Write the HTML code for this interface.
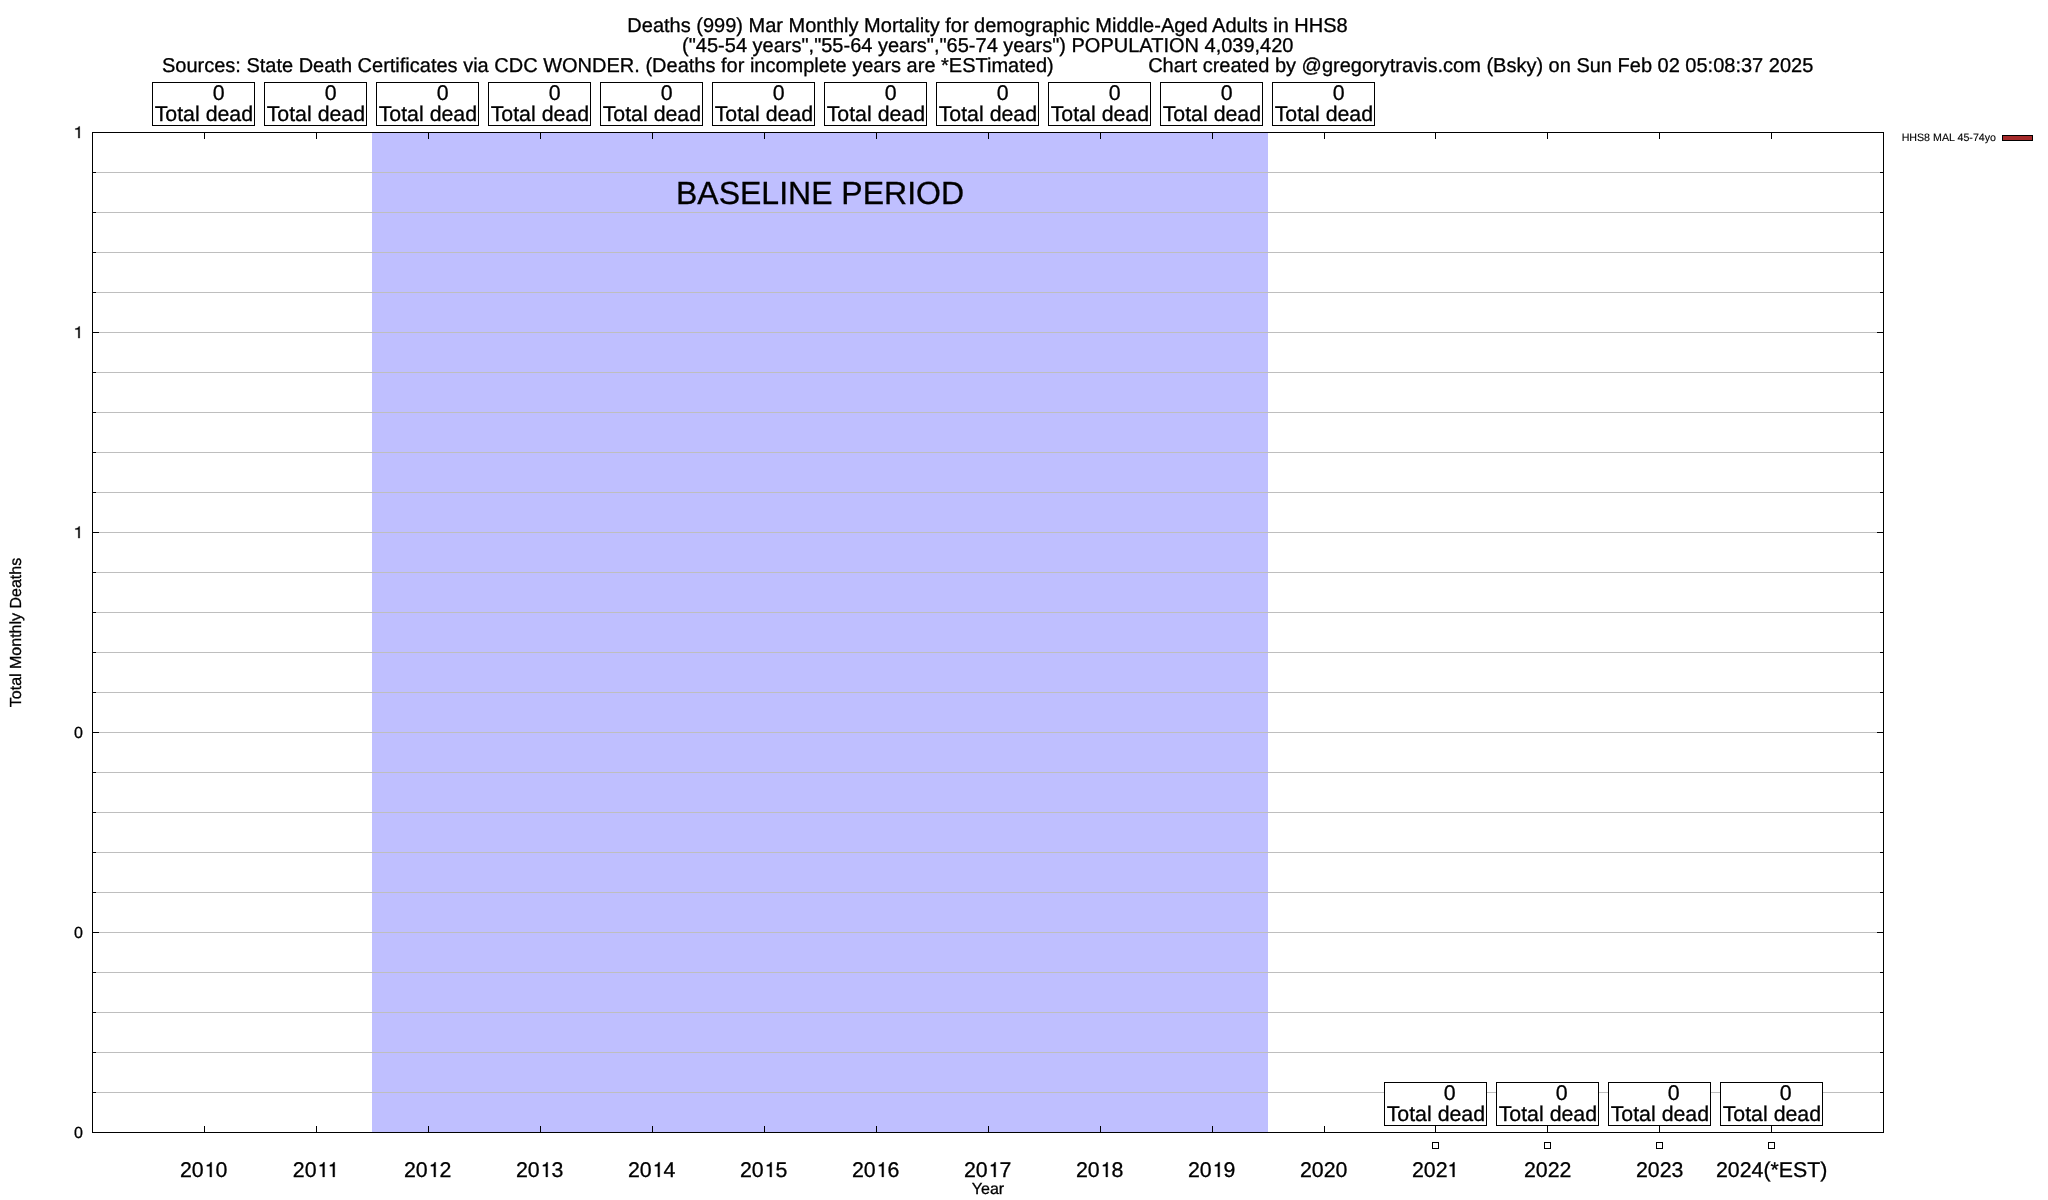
<!DOCTYPE html>
<html><head><meta charset="utf-8"><title>Deaths Mar Monthly Mortality HHS8</title>
<style>
html,body{margin:0;padding:0;background:#fff;}
body{width:2048px;height:1200px;overflow:hidden;}
svg{display:block;will-change:transform;}
text{font-family:"Liberation Sans",sans-serif;fill:#000;white-space:pre;text-rendering:geometricPrecision;stroke:#000;stroke-width:0.3px;}
.one{fill:#000;stroke:#000;stroke-width:0.3px;stroke-linejoin:round;}
.t20{font-size:20px;}
.t21{font-size:21.33px;}
.t16{font-size:16px;}
.t32{font-size:32px;}
.t10{font-size:10.67px;stroke-width:0.12px;}
.m{text-anchor:middle;}
.e{text-anchor:end;}
.ln{stroke:#000;stroke-width:1;shape-rendering:crispEdges;fill:none;}
</style></head><body>
<svg width="2048" height="1200" viewBox="0 0 2048 1200">
<rect x="0" y="0" width="2048" height="1200" fill="#ffffff"/>
<rect x="372" y="132.5" width="896" height="1000.0" fill="#bfbfff"/>
<g stroke="#bebebe" stroke-width="1" shape-rendering="crispEdges">
<line x1="92.5" y1="132.5" x2="1883.5" y2="132.5"/>
<line x1="92.5" y1="172.5" x2="1883.5" y2="172.5"/>
<line x1="92.5" y1="212.5" x2="1883.5" y2="212.5"/>
<line x1="92.5" y1="252.5" x2="1883.5" y2="252.5"/>
<line x1="92.5" y1="292.5" x2="1883.5" y2="292.5"/>
<line x1="92.5" y1="332.5" x2="1883.5" y2="332.5"/>
<line x1="92.5" y1="372.5" x2="1883.5" y2="372.5"/>
<line x1="92.5" y1="412.5" x2="1883.5" y2="412.5"/>
<line x1="92.5" y1="452.5" x2="1883.5" y2="452.5"/>
<line x1="92.5" y1="492.5" x2="1883.5" y2="492.5"/>
<line x1="92.5" y1="532.5" x2="1883.5" y2="532.5"/>
<line x1="92.5" y1="572.5" x2="1883.5" y2="572.5"/>
<line x1="92.5" y1="612.5" x2="1883.5" y2="612.5"/>
<line x1="92.5" y1="652.5" x2="1883.5" y2="652.5"/>
<line x1="92.5" y1="692.5" x2="1883.5" y2="692.5"/>
<line x1="92.5" y1="732.5" x2="1883.5" y2="732.5"/>
<line x1="92.5" y1="772.5" x2="1883.5" y2="772.5"/>
<line x1="92.5" y1="812.5" x2="1883.5" y2="812.5"/>
<line x1="92.5" y1="852.5" x2="1883.5" y2="852.5"/>
<line x1="92.5" y1="892.5" x2="1883.5" y2="892.5"/>
<line x1="92.5" y1="932.5" x2="1883.5" y2="932.5"/>
<line x1="92.5" y1="972.5" x2="1883.5" y2="972.5"/>
<line x1="92.5" y1="1012.5" x2="1883.5" y2="1012.5"/>
<line x1="92.5" y1="1052.5" x2="1883.5" y2="1052.5"/>
<line x1="92.5" y1="1092.5" x2="1883.5" y2="1092.5"/>
<line x1="92.5" y1="1132.5" x2="1883.5" y2="1132.5"/>
</g>
<g class="ln">
<line x1="92.5" y1="132.5" x2="99.0" y2="132.5"/>
<line x1="1883.5" y1="132.5" x2="1877.0" y2="132.5"/>
<line x1="92.5" y1="172.5" x2="96.0" y2="172.5"/>
<line x1="1883.5" y1="172.5" x2="1880.0" y2="172.5"/>
<line x1="92.5" y1="212.5" x2="96.0" y2="212.5"/>
<line x1="1883.5" y1="212.5" x2="1880.0" y2="212.5"/>
<line x1="92.5" y1="252.5" x2="96.0" y2="252.5"/>
<line x1="1883.5" y1="252.5" x2="1880.0" y2="252.5"/>
<line x1="92.5" y1="292.5" x2="96.0" y2="292.5"/>
<line x1="1883.5" y1="292.5" x2="1880.0" y2="292.5"/>
<line x1="92.5" y1="332.5" x2="99.0" y2="332.5"/>
<line x1="1883.5" y1="332.5" x2="1877.0" y2="332.5"/>
<line x1="92.5" y1="372.5" x2="96.0" y2="372.5"/>
<line x1="1883.5" y1="372.5" x2="1880.0" y2="372.5"/>
<line x1="92.5" y1="412.5" x2="96.0" y2="412.5"/>
<line x1="1883.5" y1="412.5" x2="1880.0" y2="412.5"/>
<line x1="92.5" y1="452.5" x2="96.0" y2="452.5"/>
<line x1="1883.5" y1="452.5" x2="1880.0" y2="452.5"/>
<line x1="92.5" y1="492.5" x2="96.0" y2="492.5"/>
<line x1="1883.5" y1="492.5" x2="1880.0" y2="492.5"/>
<line x1="92.5" y1="532.5" x2="99.0" y2="532.5"/>
<line x1="1883.5" y1="532.5" x2="1877.0" y2="532.5"/>
<line x1="92.5" y1="572.5" x2="96.0" y2="572.5"/>
<line x1="1883.5" y1="572.5" x2="1880.0" y2="572.5"/>
<line x1="92.5" y1="612.5" x2="96.0" y2="612.5"/>
<line x1="1883.5" y1="612.5" x2="1880.0" y2="612.5"/>
<line x1="92.5" y1="652.5" x2="96.0" y2="652.5"/>
<line x1="1883.5" y1="652.5" x2="1880.0" y2="652.5"/>
<line x1="92.5" y1="692.5" x2="96.0" y2="692.5"/>
<line x1="1883.5" y1="692.5" x2="1880.0" y2="692.5"/>
<line x1="92.5" y1="732.5" x2="99.0" y2="732.5"/>
<line x1="1883.5" y1="732.5" x2="1877.0" y2="732.5"/>
<line x1="92.5" y1="772.5" x2="96.0" y2="772.5"/>
<line x1="1883.5" y1="772.5" x2="1880.0" y2="772.5"/>
<line x1="92.5" y1="812.5" x2="96.0" y2="812.5"/>
<line x1="1883.5" y1="812.5" x2="1880.0" y2="812.5"/>
<line x1="92.5" y1="852.5" x2="96.0" y2="852.5"/>
<line x1="1883.5" y1="852.5" x2="1880.0" y2="852.5"/>
<line x1="92.5" y1="892.5" x2="96.0" y2="892.5"/>
<line x1="1883.5" y1="892.5" x2="1880.0" y2="892.5"/>
<line x1="92.5" y1="932.5" x2="99.0" y2="932.5"/>
<line x1="1883.5" y1="932.5" x2="1877.0" y2="932.5"/>
<line x1="92.5" y1="972.5" x2="96.0" y2="972.5"/>
<line x1="1883.5" y1="972.5" x2="1880.0" y2="972.5"/>
<line x1="92.5" y1="1012.5" x2="96.0" y2="1012.5"/>
<line x1="1883.5" y1="1012.5" x2="1880.0" y2="1012.5"/>
<line x1="92.5" y1="1052.5" x2="96.0" y2="1052.5"/>
<line x1="1883.5" y1="1052.5" x2="1880.0" y2="1052.5"/>
<line x1="92.5" y1="1092.5" x2="96.0" y2="1092.5"/>
<line x1="1883.5" y1="1092.5" x2="1880.0" y2="1092.5"/>
<line x1="92.5" y1="1132.5" x2="99.0" y2="1132.5"/>
<line x1="1883.5" y1="1132.5" x2="1877.0" y2="1132.5"/>
<line x1="204.5" y1="1132.5" x2="204.5" y2="1126.0"/>
<line x1="204.5" y1="132.5" x2="204.5" y2="139.0"/>
<line x1="316.5" y1="1132.5" x2="316.5" y2="1126.0"/>
<line x1="316.5" y1="132.5" x2="316.5" y2="139.0"/>
<line x1="428.5" y1="1132.5" x2="428.5" y2="1126.0"/>
<line x1="428.5" y1="132.5" x2="428.5" y2="139.0"/>
<line x1="540.5" y1="1132.5" x2="540.5" y2="1126.0"/>
<line x1="540.5" y1="132.5" x2="540.5" y2="139.0"/>
<line x1="652.5" y1="1132.5" x2="652.5" y2="1126.0"/>
<line x1="652.5" y1="132.5" x2="652.5" y2="139.0"/>
<line x1="764.5" y1="1132.5" x2="764.5" y2="1126.0"/>
<line x1="764.5" y1="132.5" x2="764.5" y2="139.0"/>
<line x1="876.5" y1="1132.5" x2="876.5" y2="1126.0"/>
<line x1="876.5" y1="132.5" x2="876.5" y2="139.0"/>
<line x1="988.5" y1="1132.5" x2="988.5" y2="1126.0"/>
<line x1="988.5" y1="132.5" x2="988.5" y2="139.0"/>
<line x1="1100.5" y1="1132.5" x2="1100.5" y2="1126.0"/>
<line x1="1100.5" y1="132.5" x2="1100.5" y2="139.0"/>
<line x1="1212.5" y1="1132.5" x2="1212.5" y2="1126.0"/>
<line x1="1212.5" y1="132.5" x2="1212.5" y2="139.0"/>
<line x1="1324.5" y1="1132.5" x2="1324.5" y2="1126.0"/>
<line x1="1324.5" y1="132.5" x2="1324.5" y2="139.0"/>
<line x1="1435.5" y1="1132.5" x2="1435.5" y2="1126.0"/>
<line x1="1435.5" y1="132.5" x2="1435.5" y2="139.0"/>
<line x1="1547.5" y1="1132.5" x2="1547.5" y2="1126.0"/>
<line x1="1547.5" y1="132.5" x2="1547.5" y2="139.0"/>
<line x1="1659.5" y1="1132.5" x2="1659.5" y2="1126.0"/>
<line x1="1659.5" y1="132.5" x2="1659.5" y2="139.0"/>
<line x1="1771.5" y1="1132.5" x2="1771.5" y2="1126.0"/>
<line x1="1771.5" y1="132.5" x2="1771.5" y2="139.0"/>
</g>
<rect class="ln" x="152.5" y="82.5" width="102" height="43" style="fill:#fff"/>
<text class="t21 m" x="203.9" y="100.0">     0</text>
<text class="t21 m" x="203.9" y="120.8">Total dead</text>
<rect class="ln" x="264.5" y="82.5" width="102" height="43" style="fill:#fff"/>
<text class="t21 m" x="315.9" y="100.0">     0</text>
<text class="t21 m" x="315.9" y="120.8">Total dead</text>
<rect class="ln" x="376.5" y="82.5" width="102" height="43" style="fill:#fff"/>
<text class="t21 m" x="427.9" y="100.0">     0</text>
<text class="t21 m" x="427.9" y="120.8">Total dead</text>
<rect class="ln" x="488.5" y="82.5" width="102" height="43" style="fill:#fff"/>
<text class="t21 m" x="539.9" y="100.0">     0</text>
<text class="t21 m" x="539.9" y="120.8">Total dead</text>
<rect class="ln" x="600.5" y="82.5" width="102" height="43" style="fill:#fff"/>
<text class="t21 m" x="651.9" y="100.0">     0</text>
<text class="t21 m" x="651.9" y="120.8">Total dead</text>
<rect class="ln" x="712.5" y="82.5" width="102" height="43" style="fill:#fff"/>
<text class="t21 m" x="763.9" y="100.0">     0</text>
<text class="t21 m" x="763.9" y="120.8">Total dead</text>
<rect class="ln" x="824.5" y="82.5" width="102" height="43" style="fill:#fff"/>
<text class="t21 m" x="875.9" y="100.0">     0</text>
<text class="t21 m" x="875.9" y="120.8">Total dead</text>
<rect class="ln" x="936.5" y="82.5" width="102" height="43" style="fill:#fff"/>
<text class="t21 m" x="987.9" y="100.0">     0</text>
<text class="t21 m" x="987.9" y="120.8">Total dead</text>
<rect class="ln" x="1048.5" y="82.5" width="102" height="43" style="fill:#fff"/>
<text class="t21 m" x="1099.9" y="100.0">     0</text>
<text class="t21 m" x="1099.9" y="120.8">Total dead</text>
<rect class="ln" x="1160.5" y="82.5" width="102" height="43" style="fill:#fff"/>
<text class="t21 m" x="1211.9" y="100.0">     0</text>
<text class="t21 m" x="1211.9" y="120.8">Total dead</text>
<rect class="ln" x="1272.5" y="82.5" width="102" height="43" style="fill:#fff"/>
<text class="t21 m" x="1323.9" y="100.0">     0</text>
<text class="t21 m" x="1323.9" y="120.8">Total dead</text>
<rect class="ln" x="1384.5" y="1082.5" width="102" height="43" style="fill:#fff"/>
<text class="t21 m" x="1434.9" y="1100.0">     0</text>
<text class="t21 m" x="1435.9" y="1120.8">Total dead</text>
<rect class="ln" x="1496.5" y="1082.5" width="102" height="43" style="fill:#fff"/>
<text class="t21 m" x="1546.9" y="1100.0">     0</text>
<text class="t21 m" x="1547.9" y="1120.8">Total dead</text>
<rect class="ln" x="1608.5" y="1082.5" width="102" height="43" style="fill:#fff"/>
<text class="t21 m" x="1658.9" y="1100.0">     0</text>
<text class="t21 m" x="1659.9" y="1120.8">Total dead</text>
<rect class="ln" x="1720.5" y="1082.5" width="102" height="43" style="fill:#fff"/>
<text class="t21 m" x="1770.9" y="1100.0">     0</text>
<text class="t21 m" x="1771.9" y="1120.8">Total dead</text>
<rect class="ln" x="92.5" y="132.5" width="1791.0" height="1000.0"/>
<rect class="ln" x="1432.5" y="1142.5" width="6" height="6"/>
<rect class="ln" x="1544.5" y="1142.5" width="6" height="6"/>
<rect class="ln" x="1656.5" y="1142.5" width="6" height="6"/>
<rect class="ln" x="1768.5" y="1142.5" width="6" height="6"/>
<text class="t20 m" x="987.5" y="32">Deaths (999) Mar Monthly Mortality for demographic Middle-Aged Adults in HHS8</text>
<text class="t20 m" x="987.8" y="52">("45-54 years","55-64 years","65-74 years") POPULATION 4,039,420</text>
<text class="t20 m" x="987.6" y="72" xml:space="preserve">Sources: State Death Certificates via CDC WONDER. (Deaths for incomplete years are *ESTimated)                 Chart created by @gregorytravis.com (Bsky) on Sun Feb 02 05:08:37 2025</text>
<text class="t32 m" x="820.0" y="203.7">BASELINE PERIOD</text>
<path class="one" d="M78.29,138.11 L79.70,138.11 L79.70,126.46 L78.81,126.46 C78.61,127.41 77.97,128.41 75.33,128.58 L75.33,129.59 L78.29,129.59 Z"/>
<path class="one" d="M78.29,338.11 L79.70,338.11 L79.70,326.46 L78.81,326.46 C78.61,327.41 77.97,328.41 75.33,328.58 L75.33,329.59 L78.29,329.59 Z"/>
<path class="one" d="M78.29,538.11 L79.70,538.11 L79.70,526.46 L78.81,526.46 C78.61,527.41 77.97,528.41 75.33,528.58 L75.33,529.59 L78.29,529.59 Z"/>
<text class="t16" x="74.10" y="738.2">0</text>
<text class="t16" x="74.10" y="938.2">0</text>
<text class="t16" x="74.10" y="1138.2">0</text>
<text class="t21" x="179.93" y="1177">20</text>
<path class="one" d="M209.84,1176.89 L211.71,1176.89 L211.71,1162.37 L210.52,1162.37 C210.26,1163.56 209.41,1164.80 206.85,1165.01 L206.85,1166.27 L209.84,1166.27 Z"/>
<text class="t21" x="215.51" y="1177">0</text>
<text class="t21" x="292.78" y="1177">20</text>
<path class="one" d="M322.69,1176.89 L324.57,1176.89 L324.57,1162.37 L323.37,1162.37 C323.12,1163.56 322.26,1164.80 319.70,1165.01 L319.70,1166.27 L322.69,1166.27 Z"/>
<path class="one" d="M332.84,1176.89 L334.72,1176.89 L334.72,1162.37 L333.52,1162.37 C333.27,1163.56 332.42,1164.80 329.86,1165.01 L329.86,1166.27 L332.84,1166.27 Z"/>
<text class="t21" x="403.93" y="1177">20</text>
<path class="one" d="M433.84,1176.89 L435.71,1176.89 L435.71,1162.37 L434.52,1162.37 C434.26,1163.56 433.41,1164.80 430.85,1165.01 L430.85,1166.27 L433.84,1166.27 Z"/>
<text class="t21" x="439.51" y="1177">2</text>
<text class="t21" x="515.93" y="1177">20</text>
<path class="one" d="M545.84,1176.89 L547.71,1176.89 L547.71,1162.37 L546.52,1162.37 C546.26,1163.56 545.41,1164.80 542.85,1165.01 L542.85,1166.27 L545.84,1166.27 Z"/>
<text class="t21" x="551.51" y="1177">3</text>
<text class="t21" x="627.93" y="1177">20</text>
<path class="one" d="M657.84,1176.89 L659.71,1176.89 L659.71,1162.37 L658.52,1162.37 C658.26,1163.56 657.41,1164.80 654.85,1165.01 L654.85,1166.27 L657.84,1166.27 Z"/>
<text class="t21" x="663.51" y="1177">4</text>
<text class="t21" x="739.93" y="1177">20</text>
<path class="one" d="M769.84,1176.89 L771.71,1176.89 L771.71,1162.37 L770.52,1162.37 C770.26,1163.56 769.41,1164.80 766.85,1165.01 L766.85,1166.27 L769.84,1166.27 Z"/>
<text class="t21" x="775.51" y="1177">5</text>
<text class="t21" x="851.93" y="1177">20</text>
<path class="one" d="M881.84,1176.89 L883.71,1176.89 L883.71,1162.37 L882.52,1162.37 C882.26,1163.56 881.41,1164.80 878.85,1165.01 L878.85,1166.27 L881.84,1166.27 Z"/>
<text class="t21" x="887.51" y="1177">6</text>
<text class="t21" x="963.93" y="1177">20</text>
<path class="one" d="M993.84,1176.89 L995.71,1176.89 L995.71,1162.37 L994.52,1162.37 C994.26,1163.56 993.41,1164.80 990.85,1165.01 L990.85,1166.27 L993.84,1166.27 Z"/>
<text class="t21" x="999.51" y="1177">7</text>
<text class="t21" x="1075.93" y="1177">20</text>
<path class="one" d="M1105.84,1176.89 L1107.71,1176.89 L1107.71,1162.37 L1106.52,1162.37 C1106.26,1163.56 1105.41,1164.80 1102.85,1165.01 L1102.85,1166.27 L1105.84,1166.27 Z"/>
<text class="t21" x="1111.51" y="1177">8</text>
<text class="t21" x="1187.93" y="1177">20</text>
<path class="one" d="M1217.84,1176.89 L1219.71,1176.89 L1219.71,1162.37 L1218.52,1162.37 C1218.26,1163.56 1217.41,1164.80 1214.85,1165.01 L1214.85,1166.27 L1217.84,1166.27 Z"/>
<text class="t21" x="1223.51" y="1177">9</text>
<text class="t21" x="1299.93" y="1177">2020</text>
<text class="t21" x="1411.93" y="1177">202</text>
<path class="one" d="M1452.63,1176.89 L1454.51,1176.89 L1454.51,1162.37 L1453.31,1162.37 C1453.06,1163.56 1452.20,1164.80 1449.64,1165.01 L1449.64,1166.27 L1452.63,1166.27 Z"/>
<text class="t21" x="1523.93" y="1177">2022</text>
<text class="t21" x="1635.93" y="1177">2023</text>
<text class="t21" x="1715.94" y="1177">2024(*EST)</text>
<text class="t16 m" x="988" y="1193.5">Year</text>
<text class="t16 m" transform="translate(21,632.5) rotate(-90)">Total Monthly Deaths</text>
<text class="t10 e" x="1996" y="140.7">HHS8 MAL 45-74yo</text>
<rect class="ln" x="2002.5" y="135.5" width="30" height="5" style="fill:#a52a2a"/>
</svg>
</body></html>
